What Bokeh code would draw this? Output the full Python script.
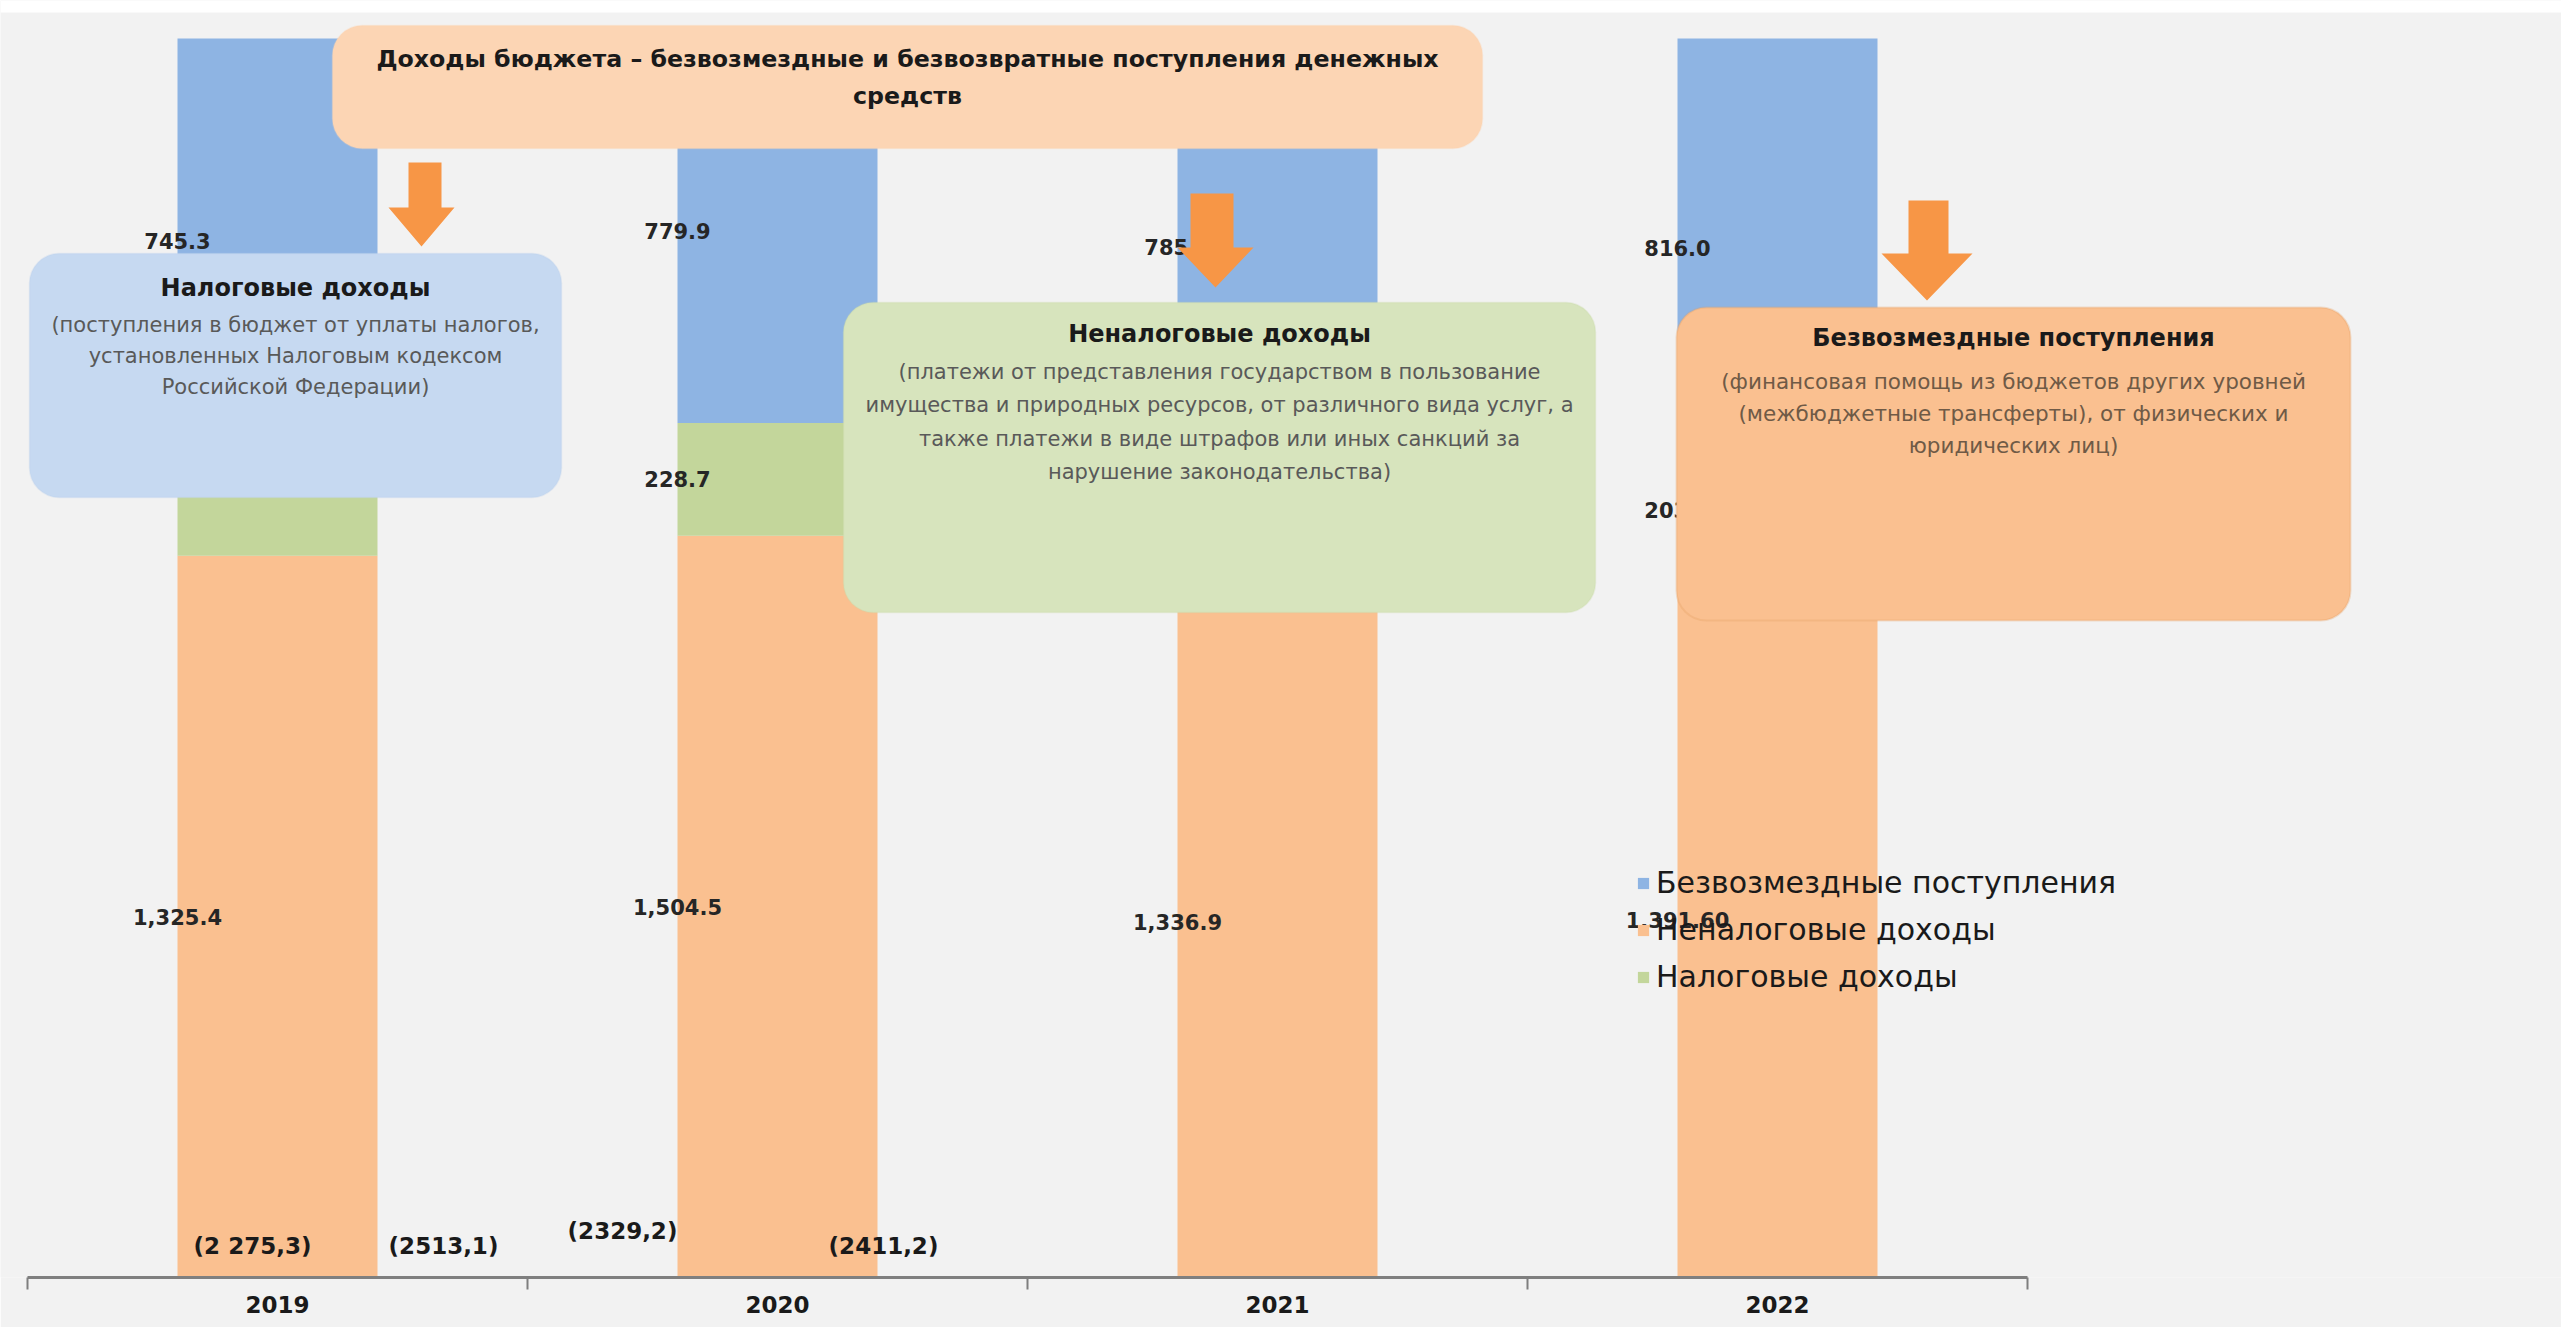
from bokeh.plotting import figure
from bokeh.models import (Range1d, FixedTicker, BoxAnnotation, Label, Legend,
                          LegendItem, ColumnDataSource)
from bokeh.core.properties import value
from bokeh.embed import file_html
from bokeh.resources import INLINE

# ---------------- data ----------------
years = ["2019", "2020", "2021", "2022"]
# bottom segment (peach)
nontax = [1325.4, 1504.5, 1336.9, 1391.6]
# middle segment (green)
tax = [204.6, 228.7, 206.7, 203.6]
# top segment (blue)
grants = [745.3, 779.9, 785.6, 816.0]
nontax_labels = ["1,325.4", "1,504.5", "1,336.9", "1,391.60"]
tax_labels = ["", "228.7", "206.7", "203.6"]
grants_labels = ["745.3", "779.9", "785.6", "816.0"]
total_labels = ["(2 275,3)", "(2513,1)", "(2329,2)", "(2411,2)"]
series_names = ["Безвозмездные поступления", "Неналоговые доходы", "Налоговые доходы"]

title_lines = ["Доходы бюджета – безвозмездные и безвозвратные поступления денежных",
               "средств"]
box1_title = "Налоговые доходы"
box1_lines = ["(поступления в бюджет от уплаты налогов,",
              "установленных Налоговым кодексом",
              "Российской Федерации)"]
box2_title = "Неналоговые доходы"
box2_lines = ["(платежи от представления государством в пользование",
              "имущества и природных ресурсов, от различного вида услуг, а",
              "также платежи в виде штрафов или иных санкций за",
              "нарушение законодательства)"]
box3_title = "Безвозмездные поступления"
box3_lines = ["(финансовая помощь из бюджетов других уровней",
              "(межбюджетные трансферты), от физических и",
              "юридических лиц)"]

# ---------------- styles ----------------
BLUE, PEACH, GREEN = "#8eb4e3", "#fac090", "#c3d69b"
BG = "#f2f2f2"
ARROW = "#f79646"
FONT = "DejaVu Sans"

W, H = 2561, 1327
BOTTOM = 50
FRAME_H = H - BOTTOM          # frame spans page y 0..1277
XS = -277 / 500
XE = XS + W / 500
YS = 0.0
YE = FRAME_H / ((FRAME_H - 38) / 100.0)   # 100 % reaches page y 38


def X(px):
    return XS + px / W * (XE - XS)


def Y(py):
    return YE - py / FRAME_H * (YE - YS)


p = figure(width=W, height=H, output_backend="svg", toolbar_location=None,
           x_range=Range1d(XS, XE), y_range=Range1d(YS, YE),
           y_axis_location=None,
           min_border_left=0, min_border_right=0, min_border_top=0,
           min_border_bottom=BOTTOM,
           background_fill_color=BG, border_fill_color=BG,
           outline_line_color=None)
p.xgrid.visible = False
p.ygrid.visible = False

# white strip along the top edge
p.add_layout(BoxAnnotation(left=XS, right=XE, top=YE, bottom=Y(12),
                           fill_color="white", fill_alpha=1.0, line_color=None,
                           level="underlay"))

# shares (100 % stacked)
idx = list(range(len(years)))
totals = [a + b + c for a, b, c in zip(nontax, tax, grants)]
s_non = [v / t * 100 for v, t in zip(nontax, totals)]
s_tax = [v / t * 100 for v, t in zip(tax, totals)]
s_gr = [v / t * 100 for v, t in zip(grants, totals)]

src = ColumnDataSource(dict(x=idx, nontax=s_non, tax=s_tax, grants=s_gr))
BAR_W = 0.4
rs = p.vbar_stack(["nontax", "tax", "grants"], x="x", width=BAR_W,
                  color=[PEACH, GREEN, BLUE], line_color=None, source=src)

# data labels, centred on the bar's left edge at segment middle
lx, ly, lt = [], [], []
for i in idx:
    edge = i - BAR_W / 2
    lx += [edge, edge, edge]
    ly += [s_non[i] / 2, s_non[i] + s_tax[i] / 2, s_non[i] + s_tax[i] + s_gr[i] / 2]
    lt += [nontax_labels[i], tax_labels[i], grants_labels[i]]
p.text(x=lx, y=ly, text=lt, text_font=value(FONT), text_font_size="21px",
       text_font_style="bold", text_align="center", text_baseline="middle",
       text_color="#262626")

# totals in parentheses
tot_pos = [(252, 1245), (443, 1245), (622, 1230), (883, 1245)]
for (px, py), t in zip(tot_pos, total_labels):
    p.add_layout(Label(x=X(px), y=Y(py), text=t, text_font=FONT,
                       text_font_size="23px", text_font_style="bold",
                       text_align="center", text_baseline="middle",
                       text_color="#1a1a1a"))

# x axis
ax = p.xaxis[0]
ax.ticker = FixedTicker(ticks=idx, minor_ticks=[i - 0.5 for i in idx] + [idx[-1] + 0.5])
ax.major_label_overrides = {i: y for i, y in zip(idx, years)}
ax.bounds = (-0.5, idx[-1] + 0.5)
ax.axis_line_width = 3
ax.axis_line_color = "#7f7f7f"
ax.major_tick_out = 0
ax.major_tick_in = 0
ax.minor_tick_out = 12
ax.minor_tick_in = 0
ax.minor_tick_line_color = "#7f7f7f"
ax.minor_tick_line_width = 2
ax.major_label_text_font = FONT
ax.major_label_text_font_size = "23px"
ax.major_label_text_font_style = "bold"
ax.major_label_text_color = "#1a1a1a"
ax.major_label_standoff = 6

# arrows (shaft x0,x1, top, head x0,x1, head start, tip) in page pixels
arrows = [(408, 441, 162, 388, 454, 207, 246),
          (1190, 1233, 193, 1177, 1253, 247, 287),
          (1908, 1948, 200, 1881, 1972, 253, 300)]
axs, ays = [], []
for s0, s1, top, h0, h1, hs, tip in arrows:
    cx = (h0 + h1) / 2
    pts = [(s0, top), (s1, top), (s1, hs), (h1, hs), (cx, tip), (h0, hs), (s0, hs)]
    axs.append([X(a) for a, b in pts])
    ays.append([Y(b) for a, b in pts])
p.patches(axs, ays, fill_color=ARROW, line_color=None)


def box(l, t, r, b, fill, line, lw=1.5):
    p.add_layout(BoxAnnotation(left=X(l), right=X(r), top=Y(t), bottom=Y(b),
                               fill_color=fill, fill_alpha=1.0,
                               line_color=line, line_width=lw,
                               border_radius=30, level="annotation"))


def txt(cx, cy, t, size, bold=False, color="#1a1a1a"):
    p.add_layout(Label(x=X(cx), y=Y(cy), text=t, text_font=FONT,
                       text_font_size=size,
                       text_font_style="bold" if bold else "normal",
                       text_align="center", text_baseline="middle",
                       text_color=color))


# title box
box(332, 25, 1482, 148, "#fcd5b4", "#fcd5b4")
txt(907, 58, title_lines[0], "23.7px", True, "#1a1a1a")
txt(907, 95, title_lines[1], "23.7px", True, "#1a1a1a")

# blue box
box(29, 253, 561, 497, "#c6d9f1", "#bcd1ec")
txt(295, 287, box1_title, "24px", True)
for k, line in enumerate(box1_lines):
    txt(295, 324 + 31 * k, line, "21px", False, "#595959")

# green box
box(843, 302, 1595, 612, "#d7e4bd", "#c9d9a9")
txt(1219, 333, box2_title, "24px", True)
for k, line in enumerate(box2_lines):
    txt(1219, 371 + 33.5 * k, line, "21px", False, "#595959")

# orange box
box(1676, 307, 2350, 620, "#fac090", "#e3a062", 2)
txt(2013, 337, box3_title, "24px", True)
for k, line in enumerate(box3_lines):
    txt(2013, 381 + 32 * k, line, "21.5px", False, "#6f5a46")

# legend
legend = Legend(items=[LegendItem(label=series_names[0], renderers=[rs[2]]),
                       LegendItem(label=series_names[1], renderers=[rs[0]]),
                       LegendItem(label=series_names[2], renderers=[rs[1]])],
                location=(1636, 283))
legend.label_text_font = FONT
legend.label_text_font_size = "30px"
legend.label_text_color = "#1a1a1a"
legend.glyph_width = 14
legend.glyph_height = 14
legend.label_standoff = 6
legend.spacing = 12
legend.padding = 0
legend.margin = 0
legend.background_fill_alpha = 0
legend.border_line_color = None
p.add_layout(legend)

open("out.html", "w").write(file_html(p, INLINE, title="Доходы бюджета"))
